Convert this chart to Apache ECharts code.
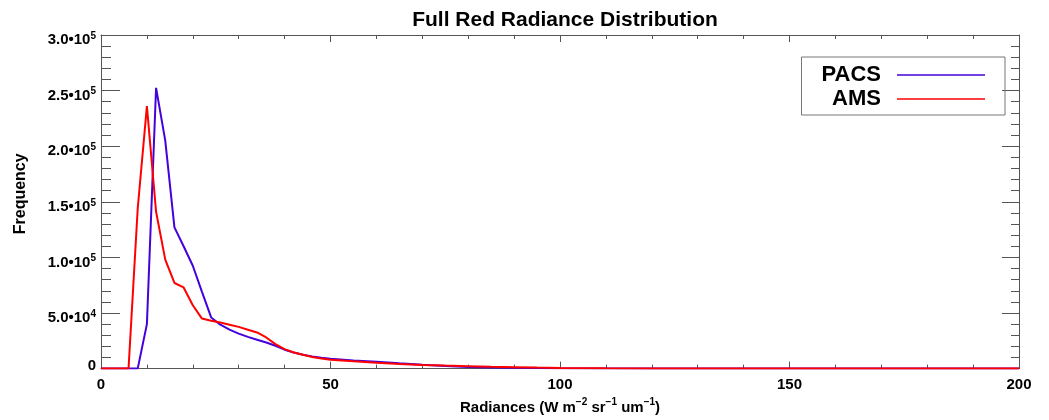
<!DOCTYPE html>
<html>
<head>
<meta charset="utf-8">
<script src="https://cdn.jsdelivr.net/npm/echarts@6/dist/echarts.min.js"></script>
<style>html,body{margin:0;padding:0;background:#fff}#c{width:1049px;height:420px}</style>
</head>
<body>
<div id="c"></div>
<script>
// Radiance (x) and frequency values
const pacsX = [0, 2, 4, 6, 8, 10, 12, 14, 16, 18, 20, 22, 24, 26, 28, 30, 32, 34, 36, 38, 40, 42, 44, 46, 48, 50, 55, 60, 65, 70, 75, 80, 85, 90, 100, 120, 140, 200];
const pacsY = [0, 0, 0, 0, 0, 40000, 252500, 205000, 127000, 110000, 92500, 69000, 46000, 39500, 35000, 31500, 28500, 26000, 23500, 20500, 17000, 14500, 12500, 11000, 9800, 8800, 7300, 6200, 4800, 3500, 2300, 1500, 1000, 700, 400, 100, 0, 0];
const amsX = [0, 2, 4, 6, 8, 10, 12, 14, 16, 18, 20, 22, 24, 26, 28, 30, 32, 34, 36, 38, 40, 42, 44, 46, 48, 50, 55, 60, 65, 70, 75, 80, 85, 90, 95, 100, 110, 120, 140, 160, 200];
const amsY = [0, 0, 0, 0, 144000, 236000, 141000, 98000, 77000, 73000, 57000, 45000, 43000, 41500, 39500, 37500, 35000, 32500, 28000, 22000, 17500, 14500, 12500, 10500, 9000, 8000, 6500, 5200, 4200, 3300, 2700, 2200, 1700, 1300, 900, 600, 300, 150, 50, 0, 0];
const seriesNames = ['PACS', 'AMS'];
const seriesColors = ['#4400dd', '#ff0000'];
const titleText = 'Full Red Radiance Distribution';
const yName = 'Frequency';

const pair = (xs, ys) => xs.map((x, i) => [x, ys[i]]);

function yLabel(v) {
  if (v === 0) return '{z|0}';
  const e = Math.floor(Math.log10(v));
  const m = v / Math.pow(10, e);
  return '{m|' + m.toFixed(1) + '\u202210}{e|' + e + '}';
}

const axisCol = '#555';
const font = '"Liberation Sans", Arial, Helvetica, sans-serif';

const chart = echarts.init(document.getElementById('c'), null, {renderer: 'canvas'});
chart.setOption({
  animation: false,
  backgroundColor: '#fff',
  textStyle: {fontFamily: font},
  title: {
    text: titleText, left: 560, textAlign: 'center', top: 5,
    textStyle: {fontFamily: font, fontSize: 21, fontWeight: 'bold', color: '#000'}
  },
  grid: {left: 101, right: 30, top: 35, bottom: 48, containLabel: false},
  legend: {
    orient: 'vertical', right: 44, top: 57, align: 'right',
    padding: [7, 20, 5, 20], itemGap: 2,
    itemWidth: 88, itemHeight: 1.5, icon: 'rect',
    borderColor: '#777', borderWidth: 1,
    textStyle: {fontFamily: font, fontSize: 22, fontWeight: 'bold', color: '#000', width: 62, align: 'right', padding: [0, 11, 0, 0]},
    data: seriesNames
  },
  xAxis: [{
    type: 'value', min: 0, max: 200, interval: 50, position: 'bottom',
    name: '{n|Radiances (W m}{s|\u22122}{n| sr}{s|\u22121}{n| um}{s|\u22121}{n|)}',
    nameLocation: 'middle', nameGap: 28,
    nameTextStyle: {rich: {
      n: {fontFamily: font, fontSize: 15, fontWeight: 'bold', color: '#000', lineHeight: 20},
      s: {fontFamily: font, fontSize: 10, fontWeight: 'bold', color: '#000', verticalAlign: 'top', lineHeight: 12}
    }},
    axisLine: {onZero: false, lineStyle: {color: axisCol, width: 1}},
    axisTick: {inside: true, length: 7, lineStyle: {color: axisCol}},
    minorTick: {show: true, splitNumber: 5, length: 4, lineStyle: {color: axisCol}},
    axisLabel: {margin: 9, fontFamily: font, fontSize: 15, fontWeight: 'bold', color: '#000'},
    splitLine: {show: false}
  }, {
    type: 'value', min: 0, max: 200, interval: 50, position: 'top',
    axisLine: {onZero: false, lineStyle: {color: axisCol, width: 1}},
    axisTick: {inside: true, length: 7, lineStyle: {color: axisCol}},
    minorTick: {show: true, splitNumber: 5, length: 4, lineStyle: {color: axisCol}},
    axisLabel: {show: false}, splitLine: {show: false}
  }],
  yAxis: [{
    type: 'value', min: 0, max: 300000, interval: 50000, position: 'left',
    name: yName, nameLocation: 'middle', nameGap: 72, nameRotate: 90,
    nameTextStyle: {fontFamily: font, fontSize: 16, fontWeight: 'bold', color: '#000', padding: [0, 0, 0, 16]},
    axisLine: {onZero: false, lineStyle: {color: axisCol, width: 1}},
    axisTick: {inside: true, length: 19, lineStyle: {color: axisCol}},
    minorTick: {show: true, splitNumber: 5, length: 10, lineStyle: {color: axisCol}},
    axisLabel: {
      margin: 5, formatter: yLabel, padding: [10, 0, 0, 0],
      rich: {
        m: {fontFamily: font, fontSize: 15, fontWeight: 'bold', color: '#000', lineHeight: 18},
        e: {fontFamily: font, fontSize: 10, fontWeight: 'bold', color: '#000', verticalAlign: 'top', lineHeight: 12},
        z: {fontFamily: font, fontSize: 15, fontWeight: 'bold', color: '#000', lineHeight: 18, padding: [0, 0, 16, 0]}
      }
    },
    splitLine: {show: false}
  }, {
    type: 'value', min: 0, max: 300000, interval: 50000, position: 'right',
    axisLine: {onZero: false, lineStyle: {color: axisCol, width: 1}},
    axisTick: {inside: true, length: 17, lineStyle: {color: axisCol}},
    minorTick: {show: true, splitNumber: 5, length: 8, lineStyle: {color: axisCol}},
    axisLabel: {show: false}, splitLine: {show: false}
  }],
  series: [{
    name: seriesNames[0], type: 'line', xAxisIndex: 0, yAxisIndex: 0,
    data: pair(pacsX, pacsY), symbol: 'none', color: seriesColors[0],
    lineStyle: {width: 2, color: seriesColors[0]}
  }, {
    name: seriesNames[1], type: 'line', xAxisIndex: 0, yAxisIndex: 0,
    data: pair(amsX, amsY), symbol: 'none', color: seriesColors[1],
    lineStyle: {width: 2, color: seriesColors[1]}
  }]
});
</script>
</body>
</html>
